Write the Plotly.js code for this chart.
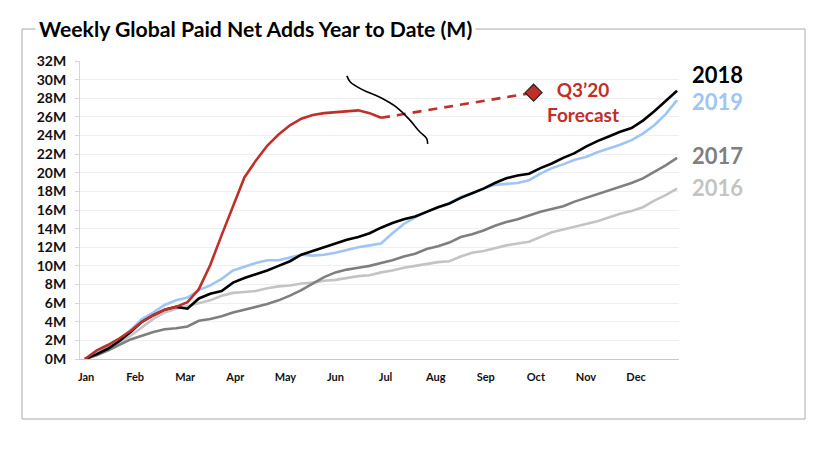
<!DOCTYPE html>
<html>
<head>
<meta charset="utf-8">
<script src="https://cdn.plot.ly/plotly-3.0.1.min.js"></script>
<style>html,body{margin:0;padding:0;background:#fff;}#chart{width:820px;height:467px;}</style>
</head>
<body>
<div id="chart"></div>
<script>
// Week index (0 = Jan 1) for each weekly point
const weeks = [0,1,2,3,4,5,6,7,8,9,10,11,12,13,14,15,16,17,18,19,20,21,22,23,24,25,26,27,28,29,30,31,32,33,34,35,36,37,38,39,40,41,42,43,44,45,46,47,48,49,50,51,52];
const weeks2020 = [0,1,2,3,4,5,6,7,8,9,10,11,12,13,14,15,16,17,18,19,20,21,22,23,24,25,26];

// Cumulative paid net adds (M)
const y2016 = [0,0.4,1.0,1.7,2.5,3.4,4.3,5.0,5.4,5.7,6.0,6.3,6.8,7.1,7.2,7.3,7.6,7.8,7.9,8.1,8.2,8.4,8.5,8.7,8.9,9.0,9.3,9.5,9.8,10.0,10.2,10.4,10.5,11.0,11.4,11.6,11.9,12.2,12.4,12.6,13.1,13.6,13.9,14.2,14.5,14.8,15.2,15.6,15.9,16.3,17.0,17.6,18.3];
const y2017 = [0,0.4,0.9,1.5,2.1,2.5,2.9,3.2,3.3,3.5,4.1,4.3,4.6,5.0,5.3,5.6,5.9,6.3,6.8,7.4,8.1,8.8,9.3,9.6,9.8,10.0,10.3,10.6,11.0,11.3,11.8,12.1,12.5,13.1,13.4,13.8,14.3,14.7,15.0,15.4,15.8,16.1,16.4,16.9,17.3,17.7,18.1,18.5,18.9,19.4,20.1,20.8,21.6];
const y2018 = [0,0.5,1.1,1.9,2.9,4.0,4.7,5.3,5.6,5.4,6.5,7.0,7.3,8.2,8.7,9.1,9.5,10.0,10.5,11.2,11.6,12.0,12.4,12.8,13.1,13.5,14.1,14.6,15.0,15.3,15.8,16.3,16.7,17.3,17.8,18.3,18.9,19.4,19.7,19.9,20.5,21.0,21.6,22.1,22.8,23.4,23.9,24.4,24.8,25.6,26.6,27.7,28.8];
const y2019 = [0,0.6,1.3,2.1,3.1,4.3,5.0,5.8,6.3,6.6,7.4,7.9,8.6,9.5,9.9,10.3,10.6,10.6,10.9,11.2,11.1,11.2,11.4,11.7,12.0,12.2,12.4,13.5,14.5,15.2,15.8,16.3,16.7,17.4,17.8,18.3,18.7,18.8,18.9,19.2,19.9,20.5,20.9,21.4,21.7,22.2,22.6,23.0,23.5,24.2,25.1,26.3,27.8];
const y2020 = [0,0.9,1.5,2.2,3.0,4.0,4.7,5.3,5.6,6.1,7.5,10.1,13.3,16.5,19.5,21.3,22.9,24.1,25.1,25.8,26.2,26.4,26.5,26.6,26.7,26.4,25.9];

// Q3'20 forecast
const forecastWeeks = [26, 39.4];
const forecastVals = [25.9, 28.6];

// Axis ticks
const monthTickWeeks = [0.1,4.4,8.8,13.2,17.6,22.0,26.4,30.8,35.2,39.6,44.0,48.4];
const monthLabels = ['Jan','Feb','Mar','Apr','May','Jun','Jul','Aug','Sep','Oct','Nov','Dec'];
const yTickVals = [0,2,4,6,8,10,12,14,16,18,20,22,24,26,28,30,32];
const yTickText = yTickVals.map(v => v + 'M');

// Hand-drawn stroke (axis units)
const scribbleX = [23.0,23.3,24.4,25.9,27.4,28.5,29.4,30.0,30.1];
const scribbleY = [30.4,29.75,28.9,28.1,27.0,25.7,24.4,23.7,23.1];

const RED = '#c0302a';
const BLUE = '#9fc5f5';
const DGRAY = '#7f7f7f';
const LGRAY = '#c4c4c4';
const FONT = 'Lato, "Open Sans", sans-serif';

const traces = [
  {x: weeks, y: y2016, mode: 'lines', line: {color: LGRAY, width: 2.6}, hoverinfo: 'skip'},
  {x: weeks, y: y2017, mode: 'lines', line: {color: DGRAY, width: 2.6}, hoverinfo: 'skip'},
  {x: weeks, y: y2019, mode: 'lines', line: {color: BLUE, width: 2.6}, hoverinfo: 'skip'},
  {x: weeks, y: y2018, mode: 'lines', line: {color: '#000000', width: 2.6}, hoverinfo: 'skip'},
  {x: weeks2020, y: y2020, mode: 'lines', line: {color: RED, width: 2.6}, hoverinfo: 'skip'},
  {x: forecastWeeks, y: forecastVals, mode: 'lines', line: {color: RED, width: 2.6, dash: '9px,7px'}, hoverinfo: 'skip'},
  {x: [forecastWeeks[1]], y: [forecastVals[1]], mode: 'markers',
   marker: {symbol: 'diamond', size: 13, color: RED, line: {color: '#222', width: 1.2}}, hoverinfo: 'skip'},
  {x: scribbleX, y: scribbleY, mode: 'lines', line: {color: '#000', width: 1.6, shape: 'spline'}, hoverinfo: 'skip'}
];

const px = v => (v - 80) / 599;     // helper for frame placement (paper units)
const py = v => (359 - v) / 298;

const layout = {
  width: 820, height: 467,
  margin: {l: 80, r: 141, t: 61, b: 108},
  paper_bgcolor: '#ffffff', plot_bgcolor: '#ffffff',
  showlegend: false,
  font: {family: FONT, color: '#000'},
  xaxis: {
    range: [-0.44, 52.17], tickvals: monthTickWeeks, ticktext: monthLabels,
    showgrid: false, zeroline: false, showline: true, linecolor: '#c8c8c8', linewidth: 1,
    ticks: '', ticklabelstandoff: 8,
    tickfont: {family: FONT, size: 11, weight: 'bold', color: '#111'}
  },
  yaxis: {
    range: [0, 32], tickvals: yTickVals, ticktext: yTickText,
    showgrid: true, gridcolor: '#efefef', gridwidth: 1, zeroline: false,
    showline: true, linecolor: '#d6d6d6', linewidth: 1,
    ticks: 'outside', ticklen: 4, tickcolor: '#d6d6d6', ticklabelstandoff: 6,
    tickfont: {family: FONT, size: 14, weight: 'bold', color: '#111'}
  },
  shapes: [
    {type: 'rect', xref: 'paper', yref: 'paper', x0: px(22), x1: px(805), y0: py(419), y1: py(29),
     line: {color: '#a8a8a8', width: 1}, fillcolor: 'rgba(0,0,0,0)', layer: 'below'}
  ],
  annotations: [
    {xref: 'paper', yref: 'paper', x: px(35), y: py(29), xanchor: 'left', yanchor: 'middle',
     text: 'Weekly Global Paid Net Adds Year to Date (M)', showarrow: false, bgcolor: '#ffffff', borderpad: 3,
     font: {family: FONT, size: 21.2, weight: 'bold', color: '#000'}},
    {xref: 'paper', yref: 'y', x: px(690), y: 30.5, xanchor: 'left', yanchor: 'middle', text: '2018', showarrow: false,
     font: {family: FONT, size: 22, weight: 'bold', color: '#000'}},
    {xref: 'paper', yref: 'y', x: px(690), y: 27.6, xanchor: 'left', yanchor: 'middle', text: '2019', showarrow: false,
     font: {family: FONT, size: 22, weight: 'bold', color: BLUE}},
    {xref: 'paper', yref: 'y', x: px(690), y: 21.9, xanchor: 'left', yanchor: 'middle', text: '2017', showarrow: false,
     font: {family: FONT, size: 22, weight: 'bold', color: DGRAY}},
    {xref: 'paper', yref: 'y', x: px(690), y: 18.4, xanchor: 'left', yanchor: 'middle', text: '2016', showarrow: false,
     font: {family: FONT, size: 22, weight: 'bold', color: LGRAY}},
    {xref: 'x', yref: 'y', x: 43.7, y: 27.6, xanchor: 'center', yanchor: 'middle', text: 'Q3’20<br>Forecast', showarrow: false,
     font: {family: FONT, size: 19, weight: 'bold', color: RED}}
  ]
};

Plotly.newPlot('chart', traces, layout, {staticPlot: true, displayModeBar: false});
</script>
</body>
</html>
